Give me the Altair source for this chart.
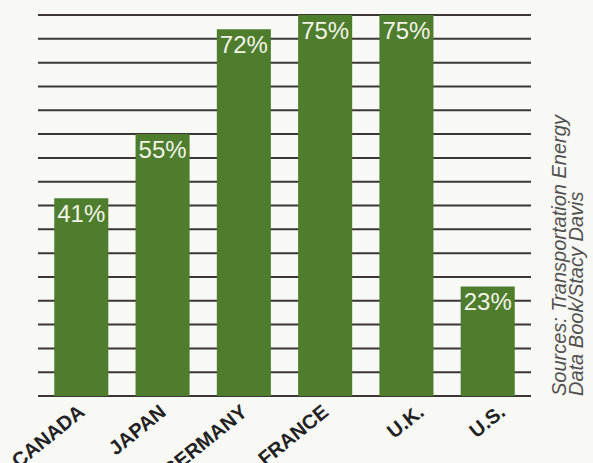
import altair as alt
import pandas as pd

countries = ["CANADA", "JAPAN", "GERMANY", "FRANCE", "U.K.", "U.S."]
bar_labels = ["41%", "55%", "72%", "75%", "75%", "23%"]
# bar heights as drawn in the reference (gridlines every 5 points)
bar_heights = [41.5, 55, 77, 80, 80, 23]
grid_values = list(range(0, 81, 5))
source_lines = ["Sources: Transportation Energy", "Data Book/Stacy Davis"]

df = pd.DataFrame({"country": countries, "height": bar_heights, "label": bar_labels})
grid_df = pd.DataFrame({"g": grid_values})
src_df = pd.DataFrame({"line": source_lines})

GREEN = "#4e7e2d"
GRID = "#3a3734"

x = alt.X(
    "country:N",
    sort=countries,
    scale=alt.Scale(paddingInner=0.335, paddingOuter=0.2),
    axis=alt.Axis(
        title=None,
        labelAngle=321,
        labelAlign="right",
        labelBaseline="middle",
        labelFont="Liberation Sans",
        labelFontWeight="bold",
        labelFontSize=20,
        labelColor="#222222",
        labelPadding=13,
        labelOffset={
            "condition": {
                "test": "datum.value == 'U.K.' || datum.value == 'U.S.'",
                "value": 15,
            },
            "value": 1,
        },
        domain=False,
        ticks=False,
        grid=False,
    ),
)
yscale = alt.Scale(domain=[0, 80], nice=False, zero=True)

grid = alt.Chart(grid_df).mark_rule(color=GRID, strokeWidth=2).encode(
    y=alt.Y("g:Q", scale=yscale, axis=None)
)

bars = alt.Chart(df).mark_bar(color=GREEN).encode(
    x=x, y=alt.Y("height:Q", scale=yscale, axis=None)
)

labels = alt.Chart(df).mark_text(
    color="#f3f3ea",
    font="Liberation Sans",
    fontSize=24,
    align="center",
    baseline="top",
    dy=5,
).encode(
    x=alt.X("country:N", sort=countries),
    y=alt.Y("height:Q", scale=yscale),
    text="label:N",
)

src1 = alt.Chart(src_df.iloc[[0]]).mark_text(
    angle=270, align="left", baseline="middle", fontStyle="italic",
    font="Liberation Sans", fontSize=20, color="#505050",
).encode(x=alt.value(522), y=alt.value(381), text="line:N")
src2 = alt.Chart(src_df.iloc[[1]]).mark_text(
    angle=270, align="left", baseline="middle", fontStyle="italic",
    font="Liberation Sans", fontSize=20, color="#505050",
).encode(x=alt.value(539), y=alt.value(381), text="line:N")

chart = (
    alt.layer(grid, bars, labels, src1, src2)
    .properties(
        width=493,
        height=381,
        autosize=alt.AutoSizeParams(type="none"),
        padding={"left": 38, "top": 15, "right": 62, "bottom": 67},
        background="#f8f8f5",
    )
    .configure_view(stroke=None)
)

chart.save("out.html", embed_options={"renderer": "svg", "actions": False})
